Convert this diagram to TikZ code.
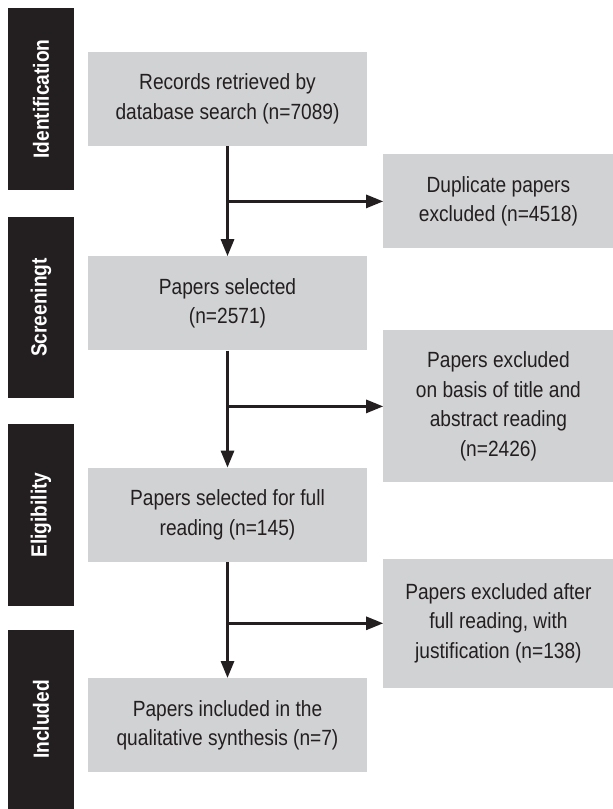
\documentclass[tikz,border=0pt]{standalone}
\usepackage{fontspec}
\setmainfont[FakeStretch=0.87]{Liberation Sans}
\usepackage{tikz}
\usetikzlibrary{arrows.meta,positioning}
\usepackage{xcolor}
\definecolor{boxgrey}{RGB}{209,210,212}
\definecolor{inkdark}{RGB}{35,31,32}

\begin{document}
\begin{tikzpicture}[
    x=1pt, y=-1pt,
    box/.style={rectangle, fill=boxgrey, text=inkdark, align=center, inner sep=0pt, minimum width=279pt, minimum height=94pt, font=\fontsize{22}{29.5}\selectfont},
    side/.style={rectangle, fill=boxgrey, text=inkdark, align=center, inner sep=0pt, minimum width=230pt, font=\fontsize{22}{29.5}\selectfont},
    phase/.style={rectangle, fill=inkdark, text=white, rotate=90, inner sep=0pt, minimum height=66pt, font=\fontsize{22}{26}\selectfont\bfseries},
    arrow/.style={-{Triangle[length=17pt,width=13pt]}, line width=3pt, draw=inkdark},
    branch/.style={-{Triangle[length=17pt,width=13pt]}, line width=2.6pt, draw=inkdark}
]
\useasboundingbox (0,0) rectangle (613,809);

% Phases
\node[phase, minimum width=182pt] (ident) at (41,99) {Identification};
\node[phase, minimum width=181pt] (screen) at (41,307.5) {Screeningt};
\node[phase, minimum width=182pt] (elig) at (41,515) {Eligibility};
\node[phase, minimum width=179pt] (incl) at (41,719.5) {Included};

% Main column
\node[box] (rec) at (227.5,99) {Records retrieved by\\database search (n=7089)};
\node[box, below=110pt of rec] (sel) {Papers selected\\(n=2571)};
\node[box, below=117pt of sel] (full) {Papers selected for full\\reading (n=145)};
\node[box, below=116pt of full] (synth) {Papers included in the\\qualitative synthesis (n=7)};

% Exclusions
\node[side, minimum height=94pt, below right=8pt and 16pt of rec.south east] (dup) {Duplicate papers\\excluded (n=4518)};
\node[side, minimum height=152pt, below right=74pt and 16pt of sel.north east] (title) {Papers excluded\\on basis of title and\\abstract reading\\(n=2426)};
\node[side, minimum height=129pt, below right=91pt and 16pt of full.north east] (reading) {Papers excluded after\\full reading, with\\justification (n=138)};

% Connectors
\draw[arrow] (rec) -- (sel);
\draw[arrow] (sel) -- (full);
\draw[arrow] (full) -- (synth);
\draw[branch] (rec.south |- dup.west) -- (dup.west);
\draw[branch] (sel.south |- title.west) -- (title.west);
\draw[branch] (full.south |- reading.west) -- (reading.west);

\end{tikzpicture}
\end{document}
